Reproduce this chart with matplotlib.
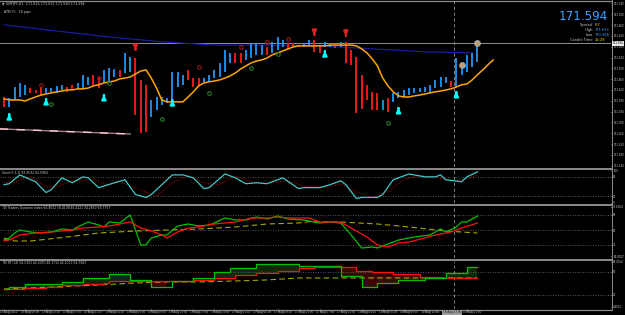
import matplotlib.pyplot as plt
from matplotlib.lines import Line2D
import numpy as np

# ---------------- main chart (GBPJPY H1) ----------------
bar_high = [171.394, 171.390, 171.431, 171.446, 171.439, 171.427, 171.420, 171.431, 171.427, 171.427,
            171.435, 171.439, 171.431, 171.439, 171.446, 171.476, 171.468, 171.476, 171.468, 171.494,
            171.501, 171.498, 171.494, 171.557, 171.542, 171.538, 171.457, 171.439, 171.383, 171.394,
            171.394, 171.390, 171.487, 171.487, 171.476, 171.494, 171.464, 171.464, 171.464, 171.476,
            171.494, 171.520, 171.568, 171.557, 171.557, 171.557, 171.568, 171.594, 171.594, 171.586,
            171.579, 171.598, 171.616, 171.605, 171.594, 171.594, 171.586, 171.594, 171.605, 171.605,
            171.586, 171.598, 171.594, 171.586, 171.598, 171.598, 171.568, 171.542, 171.476, 171.439,
            171.413, 171.409, 171.383, 171.390, 171.409, 171.413, 171.420, 171.427, 171.427, 171.427,
            171.431, 171.439, 171.457, 171.468, 171.468, 171.453, 171.538, 171.524, 171.550, 171.557,
            171.598]
bar_low = [171.357, 171.357, 171.383, 171.394, 171.401, 171.409, 171.409, 171.401, 171.409, 171.413,
           171.409, 171.420, 171.413, 171.420, 171.424, 171.427, 171.439, 171.439, 171.427, 171.446,
           171.450, 171.468, 171.468, 171.483, 171.487, 171.327, 171.261, 171.265, 171.320, 171.346,
           171.365, 171.372, 171.383, 171.431, 171.439, 171.457, 171.431, 171.439, 171.450, 171.450,
           171.464, 171.468, 171.487, 171.520, 171.520, 171.520, 171.531, 171.538, 171.550, 171.550,
           171.550, 171.557, 171.568, 171.579, 171.568, 171.579, 171.579, 171.579, 171.583, 171.561,
           171.557, 171.579, 171.579, 171.575, 171.579, 171.520, 171.513, 171.335, 171.350, 171.383,
           171.346, 171.346, 171.346, 171.339, 171.376, 171.390, 171.394, 171.401, 171.409, 171.413,
           171.413, 171.413, 171.427, 171.431, 171.446, 171.431, 171.431, 171.476, 171.487, 171.505,
           171.524]
bar_up = [0, 1, 1, 1, 1, 0, 0, 0, 1, 1,
          1, 1, 0, 0, 1, 1, 1, 0, 0, 1,
          1, 1, 0, 1, 1, 0, 0, 0, 1, 1,
          1, 1, 1, 1, 1, 0, 0, 0, 1, 1,
          1, 1, 1, 1, 0, 0, 1, 1, 1, 1,
          0, 1, 1, 1, 0, 0, 0, 1, 1, 0,
          0, 1, 1, 0, 1, 0, 0, 0, 0, 0,
          0, 0, 1, 0, 1, 1, 1, 1, 1, 1,
          1, 1, 1, 1, 1, 0, 1, 1, 1, 1,
          1]
ma_fast = [171.387, 171.383, 171.383, 171.383, 171.379, 171.387, 171.394, 171.401, 171.405, 171.409,
           171.413, 171.416, 171.420, 171.420, 171.424, 171.424, 171.427, 171.435, 171.439, 171.446,
           171.450, 171.453, 171.461, 171.464, 171.468, 171.479, 171.490, 171.494, 171.464, 171.427,
           171.383, 171.376, 171.376, 171.376, 171.376, 171.394, 171.413, 171.435, 171.446, 171.450,
           171.453, 171.457, 171.464, 171.472, 171.483, 171.498, 171.509, 171.520, 171.527, 171.531,
           171.538, 171.550, 171.557, 171.564, 171.572, 171.579, 171.583, 171.583, 171.583, 171.583,
           171.583, 171.583, 171.586, 171.586, 171.586, 171.586, 171.586, 171.583, 171.572, 171.557,
           171.535, 171.509, 171.464, 171.435, 171.413, 171.398, 171.394, 171.394, 171.398, 171.401,
           171.405, 171.409, 171.413, 171.416, 171.420, 171.424, 171.431, 171.439, 171.442, 171.457,
           171.476, 171.494, 171.513, 171.531]
ma_slow_bars = [0, 10, 20, 30, 40, 50, 60, 70, 80, 89]
ma_slow = [171.661, 171.638, 171.616, 171.598, 171.586, 171.586, 171.583, 171.572, 171.561, 171.557]
pink_bars = [-0.8, 24]
pink_vals = [171.276, 171.257]

up_arrow_bars = [1, 8, 19, 32, 61, 75, 86]
up_arrow_tips = [171.342, 171.398, 171.413, 171.394, 171.575, 171.365, 171.424]
dn_arrow_bars = [25, 59, 65]
dn_arrow_tips = [171.557, 171.612, 171.609]
red_dot_bars = [7, 18, 37, 45, 50, 54]
red_dot_vals = [171.439, 171.464, 171.505, 171.579, 171.598, 171.609]
grn_dot_bars = [9, 20, 30, 39, 47, 52, 73]
grn_dot_vals = [171.368, 171.446, 171.312, 171.409, 171.501, 171.553, 171.298]
ring_bars = [87, 90]
ring_vals = [171.513, 171.594]

bid = 171.594
crosshair_bar = 85.6
price_ticks = [171.740, 171.700, 171.660, 171.620, 171.580, 171.540, 171.500, 171.460,
               171.420, 171.380, 171.340, 171.300, 171.260, 171.220, 171.180, 171.140]

# ---------------- stochastic ----------------
stoch_bars = [0, 1, 3, 6, 8, 9, 11, 13, 15, 16, 18, 21, 23, 25, 27, 28, 30, 32, 34, 36,
              38, 39, 42, 44, 46, 48, 50, 53, 56, 57, 60, 62, 64, 65, 67, 68, 71, 72, 74, 77,
              80, 82, 83, 84, 87, 88, 90]
stoch_vals = [56, 59, 86, 65, 32, 41, 77, 62, 80, 77, 47, 62, 71, 26, 17, 26, 56, 86, 86, 77,
              44, 47, 89, 77, 59, 62, 59, 77, 44, 47, 47, 56, 68, 56, 14, 17, 17, 26, 71, 89,
              80, 80, 86, 71, 65, 80, 95]
sig_bars = [0, 2, 5, 8, 10, 13, 17, 20, 22, 26, 29, 32, 35, 38, 41, 44, 47, 50, 54, 57,
            61, 64, 67, 70, 73, 76, 79, 82, 85, 87, 90]
sig_vals = [62, 65, 80, 50, 50, 68, 72, 55, 65, 40, 20, 62, 83, 62, 56, 83, 65, 60, 68, 52,
            47, 58, 35, 17, 35, 71, 85, 78, 71, 70, 85]

# ---------------- TDI ----------------
tdi_g_bars = [0, 1, 2, 3, 5, 7, 9, 11, 13, 14, 16, 18, 19, 20, 22, 24, 26, 27, 28, 30,
              31, 33, 35, 37, 39, 40, 42, 44, 46, 48, 50, 52, 54, 57, 60, 62, 64, 66, 68, 70,
              71, 73, 75, 78, 81, 83, 84, 86, 87, 88, 90]
tdi_g_vals = [38, 40.4, 46.4, 50, 47.6, 46.4, 47.6, 51.2, 50, 53.6, 59.6, 56, 53.6, 59.6, 58.4, 68, 32, 32, 40.4, 44,
              44, 54.8, 57.2, 54.8, 56, 58.4, 64.4, 62, 62, 65.6, 63.2, 66.8, 63.2, 62, 58.4, 59.6, 58.4, 44, 28.4, 29.6,
              28.4, 33.2, 38, 41.6, 44, 51.2, 47.6, 53.6, 59.6, 59.6, 66.8]
tdi_r_bars = [0, 1, 3, 6, 9, 13, 15, 18, 20, 22, 24, 26, 28, 30, 31, 33, 35, 37, 40, 44,
              47, 50, 52, 54, 58, 60, 64, 66, 69, 71, 73, 75, 77, 80, 82, 85, 87, 90]
tdi_r_vals = [36.8, 38, 44, 46.4, 47.6, 50, 52.4, 53.6, 54.8, 57.2, 59.6, 52.4, 48.8, 44, 40.4, 47.6, 52.4, 53.6, 57.2, 59.6,
              64.4, 64.4, 65.6, 64.4, 64.4, 59.6, 59.6, 52.4, 41.6, 32, 29.6, 34.4, 35.6, 40.4, 44, 47.6, 52.4, 58.4]
tdi_y_bars = [0, 2, 5, 12, 18, 25, 31, 37, 44, 50, 56, 58, 64, 71, 77, 84, 90]
tdi_y_vals = [40.4, 36.8, 36.8, 41.6, 46.4, 48.8, 50, 51.2, 53.6, 57.2, 58.4, 60, 59.6, 57.2, 53.6, 48.8, 46.4]

# ---------------- third window (step lines) ----------------
g3_bars = [0, 1, 4, 11, 15, 20, 24, 28, 32, 36, 40, 43, 48, 56, 64, 68, 71, 75, 80, 84, 88, 90]
g3_vals = [27.8, 30.4, 34.3, 37, 42.2, 47.4, 39.6, 30.4, 38.3, 42.2, 50, 55.2, 60.4, 57.8, 44.8, 30.4, 35.7, 39.6, 42.2, 48.7, 56.5, 56.5]
r3_bars = [0, 4, 8, 11, 15, 19, 20, 36, 40, 44, 48, 52, 56, 59, 67, 70, 74, 79, 83, 90]
r3_vals = [27.8, 29.1, 30.4, 33, 34.3, 35.7, 38.3, 39.6, 42.2, 46.1, 48.7, 51.3, 55.2, 56.5, 51.3, 50, 47.4, 43.5, 42.2, 42.2]
y3_bars = [0, 18, 25, 31, 37, 44, 50, 56, 90]
y3_vals = [27.8, 33, 35.7, 37, 37, 38.3, 39.6, 42.2, 42.2]

# the 18 Aug 17:00 label sits under the crosshair box
date_ticks = [0, 4, 8, 12, 16, 20, 24, 28, 32, 36, 40, 44, 48, 52, 56, 60, 64, 68, 72, 76, 80, 88]
date_labels = ["15 Aug 2022", "15 Aug 09:00", "15 Aug 13:00", "15 Aug 17:00", "15 Aug 21:00",
               "16 Aug 01:00", "16 Aug 05:00", "16 Aug 09:00", "16 Aug 13:00", "16 Aug 17:00",
               "16 Aug 21:00", "17 Aug 01:00", "17 Aug 05:00", "17 Aug 09:00", "17 Aug 13:00",
               "17 Aug 17:00", "17 Aug 21:00", "18 Aug 01:00", "18 Aug 05:00", "18 Aug 09:00",
               "18 Aug 13:00", "18 Aug 21:00"]

W, H = 625.0, 315.0
fx = lambda px: px / W
fy = lambda py: 1 - py / H
GRAY = '#8a8a8a'
TXT = '#c8c8c8'
XL = (-0.76, 115.4)

fig = plt.figure(figsize=(6.25, 3.15), dpi=100, facecolor='black')

def panel(top, bottom, ylim):
    ax = fig.add_axes([0, fy(bottom), fx(611), (bottom - top) / H])
    ax.set_facecolor('black')
    ax.set_xlim(*XL)
    ax.set_ylim(*ylim)
    for s in ax.spines.values():
        s.set_visible(False)
    ax.yaxis.tick_right()
    ax.tick_params(axis='y', length=1.0, colors='#a0a0a0', labelsize=1.9, pad=0.6, labelcolor=TXT)
    ax.tick_params(axis='x', bottom=False, labelbottom=False)
    ax.axvline(crosshair_bar, color='#909090', lw=0.6, ls=(0, (4, 3)))
    return ax

ax = panel(1, 167, (171.135, 171.749))
ax1 = panel(170, 203, (2, 101))
ax2 = panel(206, 258, (16.4, 78.8))
ax3 = panel(261, 309, (1.75, 64.3))

# main
bars = np.arange(len(bar_high))
cols = ['#2196f3' if u else '#ff1a1a' for u in bar_up]
ax.axhline(bid, color='#909090', lw=0.7)
ax.plot(ma_slow_bars, ma_slow, color='#1a1aa0', lw=0.9)
ax.plot(pink_bars, pink_vals, color='#a08088', lw=1.0)
ax.plot(pink_bars, pink_vals, color='#ffc8d0', lw=1.0, ls=(0, (6, 6)))
ax.vlines(bars, bar_low, bar_high, colors=cols, lw=1.3)
ax.plot(np.arange(len(ma_fast)), ma_fast, color='#ffa500', lw=1.1)
for b, t in zip(up_arrow_bars, up_arrow_tips):
    ax.annotate('', xy=(b, t), xytext=(b, t - 0.024),
                arrowprops=dict(arrowstyle='-|>', color='#00ffff', lw=1.6, mutation_scale=6))
for b, t in zip(dn_arrow_bars, dn_arrow_tips):
    ax.annotate('', xy=(b, t), xytext=(b, t + 0.024),
                arrowprops=dict(arrowstyle='-|>', color='#e02020', lw=1.6, mutation_scale=6))
ax.plot(red_dot_bars, red_dot_vals, 'o', ms=2.6, mfc='none', mec='#901818', mew=0.8)
ax.plot(grn_dot_bars, grn_dot_vals, 'o', ms=2.6, mfc='none', mec='#2a7a2a', mew=0.8)
ax.plot(ring_bars, ring_vals, 'o', ms=4, mfc='#c8a070', mec='#a0a0a0', mew=0.9)
ax.set_yticks(price_ticks)
ax.set_yticklabels([f"{v:.3f}" for v in price_ticks])

# stochastic
ax1.axhline(80, color='#707070', lw=0.6, ls=(0, (1, 2)))
ax1.axhline(20, color='#707070', lw=0.6, ls=(0, (1, 2)))
ax1.plot(sig_bars, sig_vals, color='#c00000', lw=0.7, ls=(0, (1, 1.5)))
ax1.plot(stoch_bars, stoch_vals, color='#40c8c8', lw=0.9)
ax1.set_yticks([100, 80, 20, 0])
ax1.set_yticklabels(['100', '80', '20', '0'])

# TDI
for lv in (68, 50, 32):
    ax2.axhline(lv, color='#707070', lw=0.6, ls=(0, (1, 2)))
ax2.plot(tdi_y_bars, tdi_y_vals, color='#a8a800', lw=0.8, ls=(0, (5, 3)))
ax2.plot(tdi_g_bars, tdi_g_vals, color='#00c000', lw=0.9)
ax2.plot(tdi_r_bars, tdi_r_vals, color='#ff1010', lw=0.9)
ax2.set_yticks([77.6, 68, 50, 32, 18.8])
ax2.set_yticklabels(['77.6104', '68', '50', '32', '18.8027'])

# third window
for lv in (50, 20):
    ax3.axhline(lv, color='#707070', lw=0.6, ls=(0, (1, 2)))
full = np.arange(0, 91)
g3 = np.array(g3_vals)[np.searchsorted(g3_bars, full, side='right') - 1]
r3 = np.array(r3_vals)[np.searchsorted(r3_bars, full, side='right') - 1]
ax3.fill_between(full, g3, r3, where=g3 >= r3, step='post', color='#0a2a0a', lw=0)
ax3.fill_between(full, g3, r3, where=g3 < r3, step='post', color='#3a0606', lw=0)
ax3.plot(y3_bars, y3_vals, color='#a8a800', lw=0.8, ls=(0, (5, 3)))
ax3.step(full, r3, where='post', color='#ff1010', lw=0.9)
ax3.step(full, g3, where='post', color='#00c000', lw=0.9)
ax3.set_yticks([63.0, 50, 20, 4.4])
ax3.set_yticklabels(['63.0054', '50', '20', '4.4001'])
ax3.set_xticks(date_ticks)
ax3.set_xticklabels([])
ax3.tick_params(axis='x', bottom=True, length=1.2, color='#a0a0a0', direction='out')
for b, lab in zip(date_ticks, date_labels):
    ax3.text(b - 0.7, -0.03, lab, transform=ax3.get_xaxis_transform(), ha='left', va='top',
             fontsize=2.0, color=TXT)

# separators and frame
for py in (0.6, 168.5, 204.5, 259.5, 309.6):
    fig.add_artist(Line2D([0, fx(612)], [fy(py), fy(py)], transform=fig.transFigure,
                          color=GRAY, lw=1.4 if py not in (0.6, 309.6) else 0.9))
fig.add_artist(Line2D([fx(611.5), fx(611.5)], [fy(0), fy(310)], transform=fig.transFigure,
                      color=GRAY, lw=0.7))

# text overlays
fig.text(fx(2), fy(3.5), "\u25bc GBPJPY,H1  171.615 171.633 171.590 171.594", fontsize=2.4,
         color=TXT, va='center', ha='left')
fig.text(fx(4), fy(12), "ATR(7):  18 pips", fontsize=2.4, color=TXT, va='center', ha='left')
fig.text(fx(2), fy(172.5), "Stoch(5,3,3) 93.9592 84.0964", fontsize=2.2, color=TXT, va='center')
fig.text(fx(2), fy(208.5), "TDI Traders Dynamic Index 66.8012 58.4108 46.4221 34.2890 69.7757",
         fontsize=2.2, color=TXT, va='center')
fig.text(fx(2), fy(263.5), "TDI RT (14) 56.5321 42.2070 46.1713 42.2000 54.7943",
         fontsize=2.2, color=TXT, va='center')

fig.text(fx(608), fy(17), "171.594", fontsize=8.6, color='#3aa2ff', ha='right', va='center')
rows = [("Spread", "0.7", '#f0e000', 25), ("High", "171.633", '#3aa2ff', 30),
        ("Low", "170.968", '#3aa2ff', 35), ("Candle Time", "15:29", '#f0e000', 40)]
for lab, val, c, py in rows:
    fig.text(fx(593), fy(py), lab, fontsize=2.6, color=TXT, ha='right', va='center')
    fig.text(fx(595), fy(py), val, fontsize=2.6, color=c, ha='left', va='center')

fig.text(fx(612.5), fy(43.3), "171.594", fontsize=1.9, color='black', ha='left', va='center',
         bbox=dict(boxstyle='square,pad=0.2', fc='#e8e8e8', ec='none'))
fig.text(fx(443), fy(312.3), "18 Aug 17:00", fontsize=2.0, color='#202020', ha='left', va='center',
         bbox=dict(boxstyle='square,pad=0.2', fc='#9a9a9a', ec='none'))

fig.savefig('out.png', dpi=100, facecolor='black')
